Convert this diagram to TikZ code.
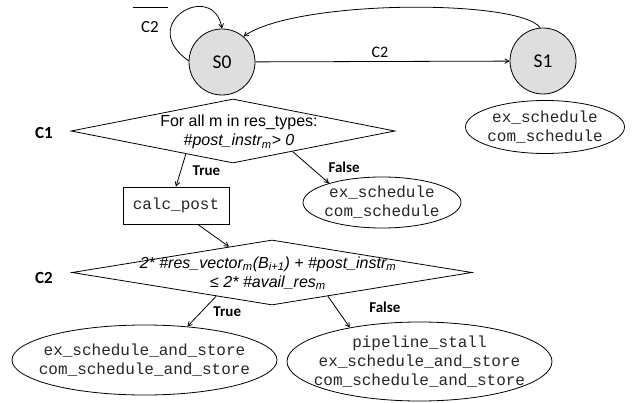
\documentclass[tikz,border=0pt]{standalone}
\usepackage{fontspec}
\setmainfont{Carlito}
\setmonofont{Liberation Mono}
\newfontfamily\arialfont{Liberation Sans}
\usetikzlibrary{arrows,shapes.geometric,positioning,calc}
\newcommand{\subm}{\textsubscript{m}}

\tikzset{
  stnode/.style={circle,draw,fill=black!13,minimum size=66pt,inner sep=0pt,font=\fontsize{19.5}{22}\selectfont},
  cond/.style={diamond,draw,inner sep=0pt},
  condtext/.style={align=center,font=\arialfont\itshape\fontsize{16}{19}\selectfont},
  act/.style={ellipse,draw,inner xsep=-15pt,inner ysep=0pt,align=center,text=black!85,font=\ttfamily\fontsize{16}{19}\selectfont},
  proc/.style={rectangle,draw,inner sep=0pt,text=black!85,font=\ttfamily\fontsize{16}{19}\selectfont},
  tag/.style={font=\bfseries\fontsize{17}{20}\selectfont},
  branch/.style={font=\bfseries\fontsize{15}{18}\selectfont},
}

\begin{document}
\begin{tikzpicture}[line width=0.8pt,x=1pt,y=1pt,>=angle 60]
\useasboundingbox (0,0) rectangle (636,-403);
% states
\node[stnode] (s0) at (222,-62) {S0};
\node[stnode] (s1) at (543,-61) {S1};
\node[act,minimum width=159pt,minimum height=53pt] (a1) at (545,-127) {ex\_schedule\\com\_schedule};
\node[font=\fontsize{17}{20}\selectfont,align=center,inner sep=0pt] (nc2) at (150,-20) {\rule{35pt}{0.6pt}\\[5pt]C2};
\draw[->] (s0.178) to[out=145,in=100,out distance=65pt,in distance=50pt] (s0.90);
\draw[->] (s1.95) to[out=125,in=35,out distance=35pt,in distance=65pt] (s0.50);
\draw[->] (s0) -- node[above,pos=0.49,font=\fontsize{16}{19}\selectfont]{C2} (s1);
% condition C1
\node[cond,minimum width=324pt,minimum height=64pt] (c1) at (233,-131) {};
\node[condtext] (c1t) at (239,-132) {{\upshape For all m in res\_types:}\\\#post\_instr\subm> 0};
\node[tag] (lc1) at (44,-133) {C1};
\node[proc,minimum width=106pt,minimum height=37pt] (calc) at (176,-205.5) {calc\_post};
\node[act,minimum width=158pt,minimum height=51pt] (es1) at (382,-202.5) {ex\_schedule\\com\_schedule};
% condition C2
\node[cond,minimum width=400pt,minimum height=65pt] (c2) at (272,-272.5) {};
\node[condtext] (c2t) at (268,-273) {2* \#res\_vector\subm(B\textsubscript{i+1}) + \#post\_instr\subm\\{\upshape≤} 2* \#avail\_res\subm};
\node[tag] (lc2) at (44,-278) {C2};
\node[act,minimum width=265pt,minimum height=70pt] (al) at (144.5,-360) {ex\_schedule\_and\_store\\com\_schedule\_and\_store};
\node[act,minimum width=265pt,minimum height=79pt] (ar) at (419.5,-361.5) {pipeline\_stall\\ex\_schedule\_and\_store\\com\_schedule\_and\_store};
\path[->]
(c1.206) edge node[right=8pt,branch]{True} (calc.north)
(c1.341) edge node[right=14pt,pos=0.5,branch]{False} (es1.160)
(calc.-41) edge (c2.149)
(c2.203) edge node[right=8pt,branch]{True} (al.38)
(c2.337) edge node[right=30pt,pos=0.35,branch]{False} (ar.154);
\end{tikzpicture}
\end{document}
